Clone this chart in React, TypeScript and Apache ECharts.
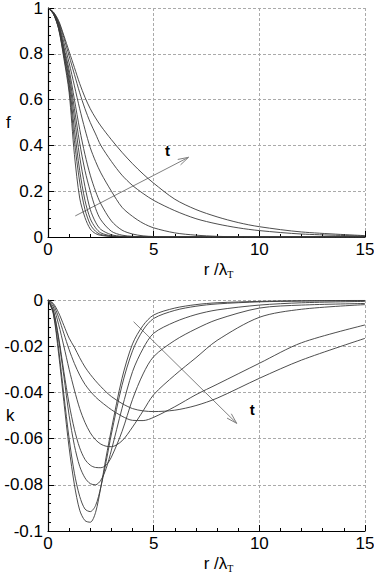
import React, { useEffect, useRef } from 'react';
import * as echarts from 'echarts';

// r / lambda_T grid for the f curves
const rF = [0, 0.25, 0.5, 0.75, 1, 1.25, 1.5, 1.75, 2, 2.25, 2.5, 3, 3.5, 4, 4.5, 5, 6, 7, 8, 9, 10, 12, 15];
const f1 = [1, 0.975, 0.91, 0.78, 0.63, 0.36, 0.17, 0.085, 0.035, 0.015, 0.007, 0.002, 0, 0, 0, 0, 0, 0, 0, 0, 0, 0, 0];
const f2 = [1, 0.975, 0.91, 0.79, 0.65, 0.42, 0.24, 0.12, 0.055, 0.025, 0.011, 0.003, 0.001, 0, 0, 0, 0, 0, 0, 0, 0, 0, 0];
const f3 = [1, 0.975, 0.915, 0.8, 0.67, 0.47, 0.29, 0.16, 0.08, 0.04, 0.018, 0.005, 0.0015, 0, 0, 0, 0, 0, 0, 0, 0, 0, 0];
const f4 = [1, 0.977, 0.92, 0.81, 0.69, 0.52, 0.35, 0.22, 0.12, 0.065, 0.033, 0.01, 0.003, 0.001, 0, 0, 0, 0, 0, 0, 0, 0, 0];
const f5 = [1, 0.978, 0.925, 0.82, 0.71, 0.56, 0.41, 0.29, 0.2, 0.125, 0.075, 0.025, 0.008, 0.003, 0.001, 0, 0, 0, 0, 0, 0, 0, 0];
const f6 = [1, 0.98, 0.93, 0.83, 0.73, 0.6, 0.47, 0.36, 0.27, 0.2, 0.145, 0.07, 0.03, 0.013, 0.005, 0.002, 0, 0, 0, 0, 0, 0, 0];
const f7 = [1, 0.98, 0.935, 0.85, 0.76, 0.66, 0.56, 0.47, 0.39, 0.33, 0.28, 0.2, 0.13, 0.09, 0.06, 0.04, 0.018, 0.008, 0.003, 0.001, 0, 0, 0];
const f8 = [1, 0.982, 0.94, 0.87, 0.79, 0.71, 0.63, 0.56, 0.5, 0.45, 0.4, 0.33, 0.27, 0.225, 0.19, 0.16, 0.115, 0.08, 0.057, 0.04, 0.028, 0.013, 0.004];
const f9 = [1, 0.983, 0.945, 0.88, 0.81, 0.74, 0.67, 0.61, 0.56, 0.52, 0.485, 0.425, 0.37, 0.32, 0.275, 0.235, 0.165, 0.12, 0.088, 0.063, 0.045, 0.022, 0.006];
const fCurves = [f1, f2, f3, f4, f5, f6, f7, f8, f9];

// r / lambda_T grid for the k curves
const rK = [0, 0.25, 0.5, 0.75, 1, 1.25, 1.5, 1.75, 2, 2.25, 2.5, 2.75, 3, 3.5, 4, 4.5, 5, 6, 7, 8, 10, 12, 15];
const k1 = [0, -0.006, -0.023, -0.044, -0.064, -0.08, -0.091, -0.0955, -0.0962, -0.092, -0.081, -0.068, -0.056, -0.034, -0.019, -0.011, -0.0065, -0.0035, -0.002, -0.0012, -0.0006, -0.0003, -0.0002];
const k2 = [0, -0.0055, -0.021, -0.041, -0.06, -0.075, -0.085, -0.0905, -0.0916, -0.089, -0.081, -0.07, -0.058, -0.037, -0.022, -0.013, -0.008, -0.0045, -0.0027, -0.0017, -0.0008, -0.0005, -0.0003];
const k3 = [0, -0.0045, -0.017, -0.033, -0.05, -0.063, -0.072, -0.077, -0.0795, -0.08, -0.078, -0.073, -0.065, -0.047, -0.031, -0.021, -0.0144, -0.0095, -0.0063, -0.0043, -0.0022, -0.0012, -0.0006];
const k4 = [0, -0.0045, -0.016, -0.031, -0.045, -0.056, -0.064, -0.069, -0.0715, -0.0725, -0.0726, -0.0715, -0.068, -0.057, -0.043, -0.032, -0.0245, -0.0175, -0.0125, -0.0085, -0.0035, -0.0022, -0.0015];
const k5 = [0, -0.003, -0.0105, -0.02, -0.03, -0.039, -0.047, -0.053, -0.0575, -0.0605, -0.0624, -0.0633, -0.0635, -0.061, -0.055, -0.048, -0.041, -0.0325, -0.025, -0.0175, -0.0075, -0.004, -0.002];
const k6 = [0, -0.002, -0.0075, -0.0145, -0.0215, -0.0275, -0.0325, -0.0365, -0.0395, -0.042, -0.044, -0.0458, -0.0475, -0.0503, -0.0521, -0.0522, -0.0508, -0.0462, -0.041, -0.0365, -0.0274, -0.0185, -0.0108];
const k7 = [0, -0.0015, -0.0055, -0.011, -0.0165, -0.0205, -0.025, -0.029, -0.0322, -0.035, -0.0375, -0.0398, -0.0418, -0.0448, -0.047, -0.048, -0.0483, -0.0477, -0.0457, -0.0425, -0.0339, -0.026, -0.0166];
const kCurves = [k1, k2, k3, k4, k5, k6, k7];

// "t" arrows: [x1, y1, x2, y2, labelX, labelY] in data units
const arrowF = [1.29, 0.092, 6.65, 0.348, 5.65, 0.377];
const arrowK = [4.05, -0.0094, 8.93, -0.0534, 9.67, -0.0472];

const FONT = '"Liberation Sans", Arial, Helvetica, sans-serif';

function zip(xs: number[], ys: number[]) {
  return xs.map((x, i) => [x, ys[i]]);
}

function arrowRender(params: any, api: any) {
  const p1 = api.coord([api.value(0), api.value(1)]);
  const p2 = api.coord([api.value(2), api.value(3)]);
  const pl = api.coord([api.value(4), api.value(5)]);
  const ang = Math.atan2(p2[1] - p1[1], p2[0] - p1[0]);
  const L = 11;
  const a = 0.28;
  const h1 = [p2[0] - L * Math.cos(ang - a), p2[1] - L * Math.sin(ang - a)];
  const h2 = [p2[0] - L * Math.cos(ang + a), p2[1] - L * Math.sin(ang + a)];
  return {
    type: 'group',
    children: [
      { type: 'line', shape: { x1: p1[0], y1: p1[1], x2: p2[0], y2: p2[1] }, style: { stroke: '#808080', lineWidth: 1 } },
      { type: 'polyline', shape: { points: [h1, p2, h2] }, style: { stroke: '#808080', fill: 'none', lineWidth: 1 } },
      {
        type: 'text',
        x: pl[0],
        y: pl[1],
        style: { text: 't', font: 'bold 15px ' + FONT, fill: '#000', align: 'center', verticalAlign: 'middle' },
      },
    ],
  };
}

function xAxisCfg(gridIndex: number) {
  return {
    type: 'value',
    gridIndex,
    min: 0,
    max: 15,
    interval: 5,
    name: 'r /λ{s|T}',
    nameLocation: 'middle',
    nameGap: 22,
    nameMoveOverlap: false,
    nameTextStyle: {
      color: '#000',
      fontSize: 17,
      fontFamily: FONT,
      padding: [0, 0, 0, 24],
      rich: { s: { fontSize: 10, fontFamily: '"Liberation Serif", serif', color: '#000', padding: [10, 0, 0, 0] } },
    },
    axisLine: { show: true, onZero: false, lineStyle: { color: '#000', width: 1.2 } },
    axisTick: { show: true, inside: true, length: 6, lineStyle: { color: '#000' } },
    minorTick: { show: true, splitNumber: 5, length: 3, lineStyle: { color: '#000' } },
    axisLabel: { color: '#000', fontSize: 17, fontFamily: FONT, margin: 4 },
    splitLine: { show: true, lineStyle: { color: '#aaa', type: [3, 2], width: 1 } },
    minorSplitLine: { show: false },
  };
}

function yAxisCfg(gridIndex: number, min: number, max: number, interval: number, name: string) {
  return {
    type: 'value',
    gridIndex,
    min,
    max,
    interval,
    name,
    nameLocation: 'middle',
    nameRotate: 0,
    nameGap: 42,
    nameMoveOverlap: false,
    nameTextStyle: { color: '#000', fontSize: 17, fontFamily: FONT, align: 'left', padding: [0, 0, 0, 0] },
    axisLine: { show: true, onZero: false, lineStyle: { color: '#000', width: 1.2 } },
    axisTick: { show: true, inside: true, length: 6, lineStyle: { color: '#000' } },
    minorTick: { show: true, splitNumber: 5, length: 3, lineStyle: { color: '#000' } },
    axisLabel: { color: '#000', fontSize: 17, lineHeight: 12, fontFamily: FONT, margin: 5 },
    splitLine: { show: true, lineStyle: { color: '#aaa', type: [3, 2], width: 1 } },
  };
}

export default function App() {
  const ref = useRef<HTMLDivElement>(null);
  useEffect(() => {
    document.body.style.margin = '0';
    const chart = echarts.init(ref.current!, undefined, { renderer: 'svg' });
    const lineStyle = { color: '#3a3a3a', width: 0.9 };
    const series: any[] = [];
    fCurves.forEach((c, i) => {
      series.push({
        type: 'line',
        name: 'f' + (i + 1),
        xAxisIndex: 0,
        yAxisIndex: 0,
        data: zip(rF, c),
        smooth: 0.3,
        showSymbol: false,
        lineStyle,
        silent: true,
      });
    });
    kCurves.forEach((c, i) => {
      series.push({
        type: 'line',
        name: 'k' + (i + 1),
        xAxisIndex: 1,
        yAxisIndex: 1,
        data: zip(rK, c),
        smooth: 0.3,
        showSymbol: false,
        lineStyle,
        silent: true,
      });
    });
    series.push({ type: 'custom', xAxisIndex: 0, yAxisIndex: 0, data: [arrowF], renderItem: arrowRender, silent: true, clip: false });
    series.push({ type: 'custom', xAxisIndex: 1, yAxisIndex: 1, data: [arrowK], renderItem: arrowRender, silent: true, clip: false });

    chart.setOption({
      animation: false,
      backgroundColor: '#fff',
      grid: [
        { left: 48, right: 9, top: 8, height: 229, outerBoundsMode: 'none', containLabel: false },
        { left: 48, right: 9, top: 300, height: 231, outerBoundsMode: 'none', containLabel: false },
      ],
      xAxis: [xAxisCfg(0), xAxisCfg(1)],
      yAxis: [yAxisCfg(0, 0, 1, 0.2, 'f'), yAxisCfg(1, -0.1, 0, 0.02, 'k')],
      series,
    });
    return () => chart.dispose();
  }, []);
  return <div ref={ref} style={{ width: 374, height: 572 }} />;
}
